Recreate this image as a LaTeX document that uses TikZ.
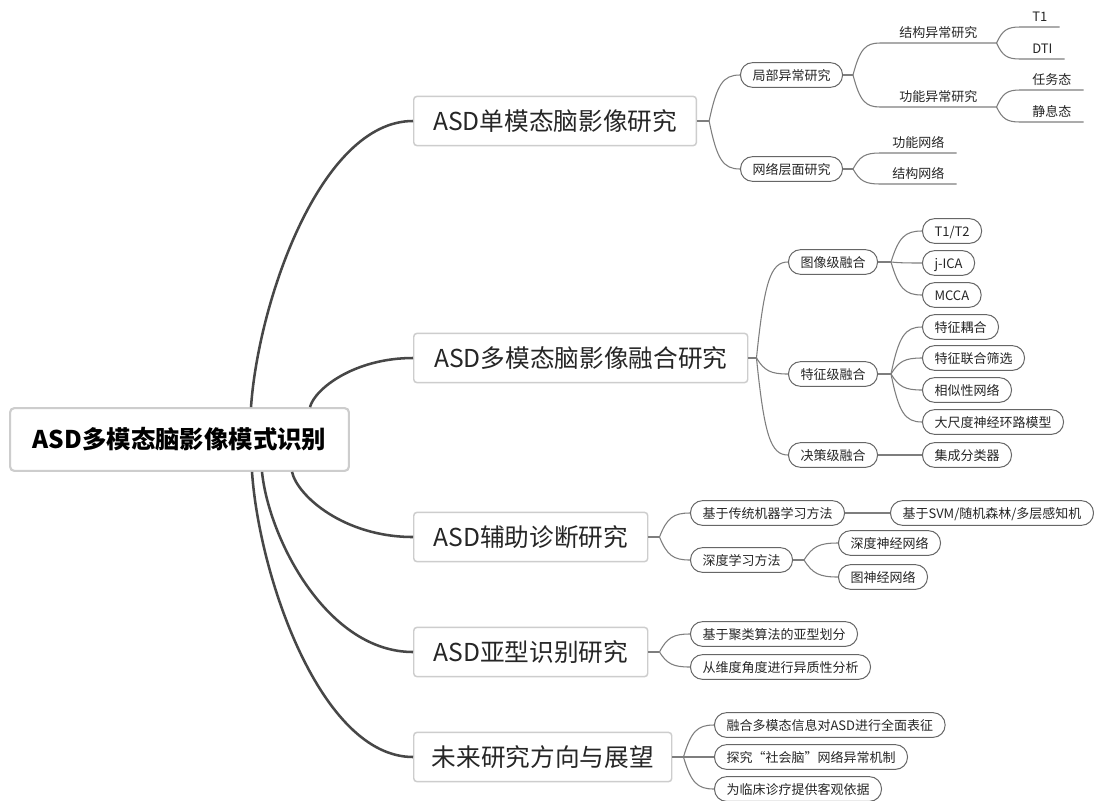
\documentclass[tikz,border=0pt]{standalone}
\usepackage{fontspec}
\setmainfont{Noto Sans CJK SC}
\usetikzlibrary{calc}
\definecolor{trunk}{HTML}{474747}
\definecolor{twig}{HTML}{7E7E7E}
\definecolor{frame}{HTML}{CDCDCD}
\definecolor{pillrim}{HTML}{666666}
\definecolor{ink}{HTML}{262626}
\tikzset{
  rootbox/.style={draw=frame, fill=white, rounded corners=3pt, line width=1.6pt,
                  minimum width=254pt, minimum height=47pt, text=black,
                  font=\fontsize{18.3pt}{20pt}\selectfont\bfseries},
  topic/.style={draw=frame, fill=white, rounded corners=2.5pt, line width=1.1pt, anchor=west,
                inner xsep=12pt, minimum height=37pt, text=ink,
                font=\fontsize{18.5pt}{20pt}\selectfont},
  pill/.style={draw=pillrim, fill=white, rounded corners=9pt, line width=0.75pt, anchor=west,
               inner xsep=9pt, minimum height=18.5pt, text height=0.88em, text depth=0.12em,
               text=ink, font=\fontsize{9.75pt}{11pt}\selectfont},
  uline/.style={anchor=south west, inner xsep=9pt, inner ysep=3pt, text height=0.88em,
                text depth=0.12em, text=ink, font=\fontsize{9.75pt}{11pt}\selectfont},
  trunkline/.style={draw=trunk, line width=1.9pt},
  twigline/.style={draw=twig, line width=0.8pt},
  bough/.style={to path={let \p1=(\tikztostart),\p2=(\tikztotarget) in
     .. controls ({\x1+0.045*(\x2-\x1)},{\y1+0.37*(\y2-\y1)}) and ({\x1+0.43*(\x2-\x1)},\y2)
     .. (\tikztotarget) \tikztonodes}},
  sprig/.style={to path={let \p1=(\tikztostart),\p2=(\tikztotarget) in
     .. controls ({\x1+0.25*(\x2-\x1)},{\y1+0.8*(\y2-\y1)}) and ({\x1+0.45*(\x2-\x1)},\y2)
     .. (\tikztotarget) \tikztonodes}}
}
\begin{document}
\begin{tikzpicture}[x=0.75pt,y=-0.75pt]
\useasboundingbox[fill=white] (0,0) rectangle (1099,800);
% centre and main topics
\node[rootbox] (root) at (179.5,439.5) {ASD多模态脑影像模式识别};
\node[topic,minimum width=212pt] (uni) at (413,121) {ASD单模态脑影像研究};
\node[topic,minimum width=250.5pt] (multi) at (413,358) {ASD多模态脑影像融合研究};
\node[topic,minimum width=175.5pt] (diag) at (413,537) {ASD辅助诊断研究};
\node[topic,minimum width=175.5pt] (sub) at (413,652) {ASD亚型识别研究};
\node[topic,minimum width=193.5pt] (future) at (413,757) {未来研究方向与展望};
\draw[trunkline] (251,0 |- root.north) to[bough] (uni.west);
\draw[trunkline] (310,0 |- root.north) to[bough] (multi.west);
\draw[trunkline] (292,0 |- root.south) to[bough] (diag.west);
\draw[trunkline] (262,0 |- root.south) to[bough] (sub.west);
\draw[trunkline] (252,0 |- root.south) to[bough] (future.west);

% single modality
\draw[twigline] (uni.east) -- ++(12,0) coordinate (uniJ);
\node[pill] (loc) at (740,75) {局部异常研究};
\node[pill] (net) at (740,169) {网络层面研究};
\foreach \k in {loc,net} \draw[twigline] (uniJ) to[sprig] (\k.west);
\draw[twigline] (loc.east) -- ++(10,0) coordinate (locJ);
\node[uline,minimum width=87pt] (struct) at (880,43) {结构异常研究};
\node[uline,minimum width=87pt] (func) at (880,107) {功能异常研究};
\foreach \k in {struct,func} \draw[twigline] (locJ) to[sprig] (\k.south west) -- (\k.south east);
\node[uline] (t1) at (1020,27) {T1};
\node[uline] (dti) at (1020,59) {DTI};
\node[uline] (task) at (1020,90) {任务态};
\node[uline] (rest) at (1020,122) {静息态};
\foreach \k in {t1,dti} \draw[twigline] (struct.south east) to[sprig] (\k.south west) -- (\k.south east);
\foreach \k in {task,rest} \draw[twigline] (func.south east) to[sprig] (\k.south west) -- (\k.south east);
\draw[twigline] (net.east) -- ++(10,0) coordinate (netJ);
\node[uline] (fnet) at (880,153) {功能网络};
\node[uline] (snet) at (880,184) {结构网络};
\foreach \k in {fnet,snet} \draw[twigline] (netJ) to[sprig] (\k.south west) -- (\k.south east);

% fusion
\draw[twigline] (multi.east) -- ++(8,0) coordinate (multiJ);
\node[pill] (img) at (788,262) {图像级融合};
\node[pill] (feat) at (788,374) {特征级融合};
\node[pill] (dec) at (788,455) {决策级融合};
\foreach \k in {img,feat,dec} \draw[twigline] (multiJ) to[sprig] (\k.west);
\draw[twigline] (img.east) -- ++(13,0) coordinate (imgJ);
\node[pill] (t1t2) at (922,231) {T1/T2};
\node[pill] (jica) at (922,263) {j-ICA};
\node[pill] (mcca) at (922,295) {MCCA};
\foreach \k in {t1t2,jica,mcca} \draw[twigline] (imgJ) to[sprig] (\k.west);
\draw[twigline] (feat.east) -- ++(13,0) coordinate (featJ);
\node[pill] (couple) at (922,327) {特征耦合};
\node[pill] (joint) at (922,358) {特征联合筛选};
\node[pill] (simnet) at (922,390) {相似性网络};
\node[pill] (circuit) at (922,422) {大尺度神经环路模型};
\foreach \k in {couple,joint,simnet,circuit} \draw[twigline] (featJ) to[sprig] (\k.west);
\node[pill] (ens) at (922,455) {集成分类器};
\draw[twigline] (dec.east) -- (ens.west);

% diagnosis
\draw[twigline] (diag.east) -- ++(11,0) coordinate (diagJ);
\node[pill] (trad) at (690,513) {基于传统机器学习方法};
\node[pill] (deep) at (690,560) {深度学习方法};
\foreach \k in {trad,deep} \draw[twigline] (diagJ) to[sprig] (\k.west);
\node[pill] (svm) at (890,513) {基于SVM/随机森林/多层感知机};
\draw[twigline] (trad.east) -- (svm.west);
\draw[twigline] (deep.east) -- ++(11,0) coordinate (deepJ);
\node[pill] (dnn) at (838,543) {深度神经网络};
\node[pill] (gnn) at (838,577) {图神经网络};
\foreach \k in {dnn,gnn} \draw[twigline] (deepJ) to[sprig] (\k.west);

% subtypes
\draw[twigline] (sub.east) -- ++(11,0) coordinate (subJ);
\node[pill] (clus) at (690,634) {基于聚类算法的亚型划分};
\node[pill] (dim) at (690,667) {从维度角度进行异质性分析};
\foreach \k in {clus,dim} \draw[twigline] (subJ) to[sprig] (\k.west);

% outlook
\draw[twigline] (future.east) -- ++(11,0) coordinate (futJ);
\node[pill] (fuse) at (714,725) {融合多模态信息对ASD进行全面表征};
\node[pill] (social) at (714,757) {探究“社会脑”网络异常机制};
\node[pill] (clinic) at (714,789) {为临床诊疗提供客观依据};
\foreach \k in {fuse,social,clinic} \draw[twigline] (futJ) to[sprig] (\k.west);
\end{tikzpicture}
\end{document}
